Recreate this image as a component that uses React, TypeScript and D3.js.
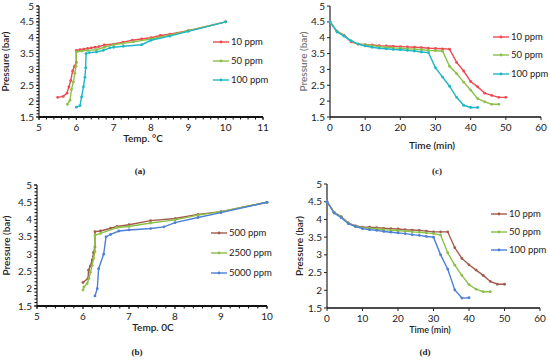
import React from 'react';
import * as d3 from 'd3';

// ---- panel (a): pressure vs temperature, 10/50/100 ppm ----
const aT10 = [5.5, 5.65, 5.75, 5.8, 5.85, 5.9, 5.95, 6.0, 6.0, 6.1, 6.2, 6.3, 6.4, 6.5, 6.6, 6.75, 7.0, 7.25, 7.5, 7.75, 8.0, 8.25, 8.5, 9.0, 10];
const aP10 = [2.12, 2.15, 2.25, 2.45, 2.65, 2.95, 3.1, 3.22, 3.6, 3.62, 3.64, 3.66, 3.68, 3.7, 3.72, 3.77, 3.8, 3.86, 3.92, 3.96, 4.0, 4.07, 4.11, 4.22, 4.5];
const aT50 = [5.76, 5.83, 5.87, 5.92, 5.96, 5.99, 6.0, 6.14, 6.3, 6.54, 6.75, 7.0, 7.25, 7.53, 8.0, 8.5, 9.0, 10];
const aP50 = [1.9, 2.03, 2.37, 2.6, 2.88, 3.1, 3.55, 3.58, 3.6, 3.62, 3.7, 3.78, 3.82, 3.87, 3.96, 4.08, 4.22, 4.5];
const aT100 = [6.0, 6.1, 6.14, 6.19, 6.23, 6.25, 6.26, 6.35, 6.54, 6.72, 6.9, 7.0, 7.26, 7.75, 8.0, 8.5, 9.0, 10];
const aP100 = [1.81, 1.86, 2.13, 2.45, 2.75, 3.05, 3.5, 3.53, 3.55, 3.6, 3.68, 3.7, 3.73, 3.78, 3.92, 4.05, 4.2, 4.5];

// ---- panel (b): pressure vs temperature, 500/2500/5000 ppm ----
const bT500 = [6.0, 6.11, 6.12, 6.16, 6.2, 6.23, 6.26, 6.26, 6.38, 6.6, 6.74, 7.0, 7.47, 8.0, 8.5, 9.0, 10];
const bP500 = [2.18, 2.3, 2.54, 2.66, 2.83, 3.05, 3.21, 3.65, 3.67, 3.75, 3.8, 3.85, 3.97, 4.03, 4.15, 4.23, 4.5];
const bT2500 = [6.0, 6.02, 6.09, 6.13, 6.16, 6.2, 6.23, 6.26, 6.26, 6.38, 6.74, 7.0, 7.47, 8.0, 8.5, 9.0, 10];
const bP2500 = [1.96, 2.05, 2.15, 2.3, 2.47, 2.68, 2.88, 3.07, 3.55, 3.6, 3.77, 3.8, 3.9, 3.99, 4.13, 4.23, 4.5];
const bT5000 = [6.26, 6.31, 6.34, 6.45, 6.5, 6.6, 6.78, 7.0, 7.47, 7.76, 8.0, 8.5, 9.0, 10];
const bP5000 = [1.79, 2.0, 2.58, 3.0, 3.5, 3.57, 3.67, 3.7, 3.74, 3.79, 3.91, 4.06, 4.2, 4.5];

// ---- panel (c): pressure vs time ----
const cTime10 = [0, 2, 4, 6, 8, 10, 12, 14, 16, 18, 20, 22, 24, 26, 28, 30, 32, 34, 36, 38, 40, 42, 44, 46, 48, 50];
const cP10 = [4.5, 4.2, 4.08, 3.87, 3.8, 3.78, 3.77, 3.75, 3.74, 3.73, 3.72, 3.71, 3.7, 3.69, 3.67, 3.66, 3.65, 3.64, 3.22, 2.95, 2.62, 2.45, 2.25, 2.18, 2.12, 2.12];
const cTime50 = [0, 2, 4, 6, 8, 10, 12, 14, 16, 18, 20, 22, 24, 26, 28, 30, 32, 34, 36, 38, 40, 42, 44, 46, 48];
const cP50 = [4.5, 4.2, 4.07, 3.9, 3.8, 3.77, 3.75, 3.72, 3.7, 3.68, 3.67, 3.65, 3.64, 3.62, 3.6, 3.59, 3.58, 3.1, 2.87, 2.6, 2.35, 2.08, 1.98, 1.9, 1.9];
const cTime100 = [0, 2, 4, 6, 8, 10, 12, 14, 16, 18, 20, 22, 24, 26, 28, 30, 32, 34, 36, 38, 40, 42];
const cP100 = [4.5, 4.18, 4.05, 3.9, 3.8, 3.74, 3.7, 3.67, 3.65, 3.63, 3.62, 3.6, 3.58, 3.55, 3.53, 3.05, 2.76, 2.47, 2.12, 1.87, 1.8, 1.8];

// ---- panel (d): pressure vs time ----
const dTime10 = [0, 2, 4, 6, 8, 10, 12, 14, 16, 18, 20, 22, 24, 26, 28, 30, 32, 34, 36, 38, 40, 42, 44, 46, 48, 50];
const dP10 = [4.5, 4.2, 4.08, 3.9, 3.82, 3.78, 3.78, 3.77, 3.75, 3.74, 3.73, 3.71, 3.7, 3.69, 3.67, 3.65, 3.65, 3.65, 3.2, 2.9, 2.72, 2.57, 2.42, 2.25, 2.17, 2.17];
const dTime50 = [0, 2, 4, 6, 8, 10, 12, 14, 16, 18, 20, 22, 24, 26, 28, 30, 32, 34, 36, 38, 40, 42, 44, 46];
const dP50 = [4.5, 4.2, 4.07, 3.9, 3.8, 3.77, 3.75, 3.73, 3.71, 3.7, 3.68, 3.67, 3.65, 3.64, 3.62, 3.6, 3.56, 3.06, 2.71, 2.42, 2.16, 2.03, 1.96, 1.96];
const dTime100 = [0, 2, 4, 6, 8, 10, 12, 14, 16, 18, 20, 22, 24, 26, 28, 30, 32, 34, 36, 38, 40];
const dP100 = [4.5, 4.18, 4.05, 3.88, 3.8, 3.74, 3.71, 3.69, 3.66, 3.64, 3.62, 3.6, 3.57, 3.55, 3.52, 3.5, 3.0, 2.6, 2.01, 1.78, 1.79];

const yTicks = [1.5, 2, 2.5, 3, 3.5, 4, 4.5, 5];
const tempTicksA = [5, 6, 7, 8, 9, 10, 11];
const tempTicksB = [5, 6, 7, 8, 9, 10];
const timeTicks = [0, 10, 20, 30, 40, 50, 60];

const RED = '#ee4a4f';
const GREEN = '#8cc04a';
const CYAN = '#1fb7c6';
const BROWN = '#a35a4a';
const BLUE = '#4d7fd6';

const FONT = 'Lato, "Open Sans", sans-serif';

type Series = { name: string; xs: number[]; ys: number[]; color: string };

type PanelProps = {
  series: Series[];
  xDomain: [number, number];
  xRange: [number, number];
  yRange: [number, number];
  xTicks: number[];
  minorX?: boolean;
  minorY?: boolean;
  xTitle: string;
  xTitlePos: [number, number];
  xTitleSize?: number;
  yTitleX: number;
  yTitleColor?: string;
  legendX: number;
  legendY: number[];
  tag: string;
  tagPos: [number, number];
};

const Panel = (p: PanelProps) => {
  const x = d3.scaleLinear().domain(p.xDomain).range(p.xRange);
  const y = d3.scaleLinear().domain([1.5, 5]).range(p.yRange);
  const line = d3.line<[number, number]>().x(d => x(d[0])).y(d => y(d[1]));
  const x0 = p.xRange[0];
  const yBase = p.yRange[0];

  const minorXs = p.minorX ? d3.range(p.xDomain[0], p.xDomain[1] + 1e-6, 0.2) : [];
  const minorYs = p.minorY ? d3.range(1.5, 5 + 1e-6, 0.1) : [];

  return (
    <g fontFamily={FONT}>
      {/* minor ticks */}
      {minorXs.map((v, i) => (
        <line key={'mx' + i} x1={x(v)} x2={x(v)} y1={yBase} y2={yBase + 2.5} stroke="#000" strokeWidth={1} />
      ))}
      {minorYs.map((v, i) => (
        <line key={'my' + i} x1={x0 - 2.5} x2={x0} y1={y(v)} y2={y(v)} stroke="#000" strokeWidth={1} />
      ))}
      {/* axes */}
      <line x1={x0} x2={x0} y1={p.yRange[0]} y2={p.yRange[1]} stroke="#222" strokeWidth={1.2} />
      <line x1={x0} x2={p.xRange[1]} y1={yBase} y2={yBase} stroke="#111" strokeWidth={p.minorX ? 1.8 : 1.5} />
      {yTicks.map(v => (
        <g key={'y' + v}>
          <line x1={x0 - 3} x2={x0} y1={y(v)} y2={y(v)} stroke="#222" />
          <text x={x0 - 5} y={y(v)} dy="0.35em" textAnchor="end" fontSize={10} fill="#222">{v}</text>
        </g>
      ))}
      {p.xTicks.map(v => (
        <g key={'x' + v}>
          <line x1={x(v)} x2={x(v)} y1={yBase} y2={yBase + 3} stroke="#222" />
          <text x={x(v)} y={yBase + 14} textAnchor="middle" fontSize={10} fill="#222">{v}</text>
        </g>
      ))}
      {/* titles */}
      <text x={p.xTitlePos[0]} y={p.xTitlePos[1]} textAnchor="middle" fontSize={p.xTitleSize || 10} fontWeight={600} fill="#222">{p.xTitle}</text>
      <text transform={`translate(${p.yTitleX},${(p.yRange[0] + p.yRange[1]) / 2}) rotate(-90)`} textAnchor="middle" fontSize={10} fontWeight={600} fill={p.yTitleColor || '#222'}>Pressure (bar)</text>
      {/* series */}
      {p.series.map(s => {
        const pts = s.xs.map((v, i) => [v, s.ys[i]] as [number, number]);
        return (
          <g key={s.name}>
            <path d={line(pts) || ''} fill="none" stroke={s.color} strokeWidth={1.4} />
            {pts.map((d, i) => (
              <circle key={i} cx={x(d[0])} cy={y(d[1])} r={1.4} fill={s.color} />
            ))}
          </g>
        );
      })}
      {/* legend */}
      {p.series.map((s, i) => (
        <g key={'l' + s.name}>
          <line x1={p.legendX} x2={p.legendX + 16} y1={p.legendY[i]} y2={p.legendY[i]} stroke={s.color} strokeWidth={1.4} />
          <circle cx={p.legendX + 8} cy={p.legendY[i]} r={1.4} fill={s.color} />
          <text x={p.legendX + 18} y={p.legendY[i]} dy="0.35em" fontSize={9.5} fill="#222">{s.name}</text>
        </g>
      ))}
      <text x={p.tagPos[0]} y={p.tagPos[1]} textAnchor="middle" fontSize={9} fontWeight="bold" fontFamily='"Liberation Serif", serif' fill="#222">{p.tag}</text>
    </g>
  );
};

const App = () => (
  <svg width={550} height={360} style={{ position: 'absolute', left: 0, top: 0, background: '#fff' }}>
    <Panel
      series={[
        { name: '10 ppm', xs: aT10, ys: aP10, color: RED },
        { name: '50 ppm', xs: aT50, ys: aP50, color: GREEN },
        { name: '100 ppm', xs: aT100, ys: aP100, color: CYAN },
      ]}
      xDomain={[5, 11]} xRange={[39, 263]} yRange={[117, 6]}
      xTicks={tempTicksA} minorX minorY
      xTitle="Temp. °C" xTitlePos={[143, 142]}
      yTitleX={9} legendX={213} legendY={[42, 61, 80]}
      tag="(a)" tagPos={[140, 174]}
    />
    <Panel
      series={[
        { name: '10 ppm', xs: cTime10, ys: cP10, color: RED },
        { name: '50 ppm', xs: cTime50, ys: cP50, color: GREEN },
        { name: '100 ppm', xs: cTime100, ys: cP100, color: CYAN },
      ]}
      xDomain={[0, 60]} xRange={[330, 541]} yRange={[117, 6]}
      xTicks={timeTicks}
      xTitle="Time (min)" xTitlePos={[432, 149]}
      yTitleX={307} yTitleColor="#777" legendX={493} legendY={[37, 55, 74]}
      tag="(c)" tagPos={[437, 174]}
    />
    <Panel
      series={[
        { name: '500 ppm', xs: bT500, ys: bP500, color: BROWN },
        { name: '2500 ppm', xs: bT2500, ys: bP2500, color: GREEN },
        { name: '5000 ppm', xs: bT5000, ys: bP5000, color: BLUE },
      ]}
      xDomain={[5, 10]} xRange={[37, 267]} yRange={[306, 185]}
      xTicks={tempTicksB} minorX minorY
      xTitle="Temp. 0C" xTitlePos={[153, 331]}
      yTitleX={10} legendX={211} legendY={[233, 253, 273]}
      tag="(b)" tagPos={[137, 355]}
    />
    <Panel
      series={[
        { name: '10 ppm', xs: dTime10, ys: dP10, color: BROWN },
        { name: '50 ppm', xs: dTime50, ys: dP50, color: GREEN },
        { name: '100 ppm', xs: dTime100, ys: dP100, color: BLUE },
      ]}
      xDomain={[0, 60]} xRange={[327, 540]} yRange={[308, 184]}
      xTicks={timeTicks}
      xTitle="Time (min)" xTitlePos={[430, 333]} xTitleSize={9}
      yTitleX={303} legendX={491} legendY={[214, 232, 250]}
      tag="(d)" tagPos={[425, 355]}
    />
  </svg>
);

export default App;
